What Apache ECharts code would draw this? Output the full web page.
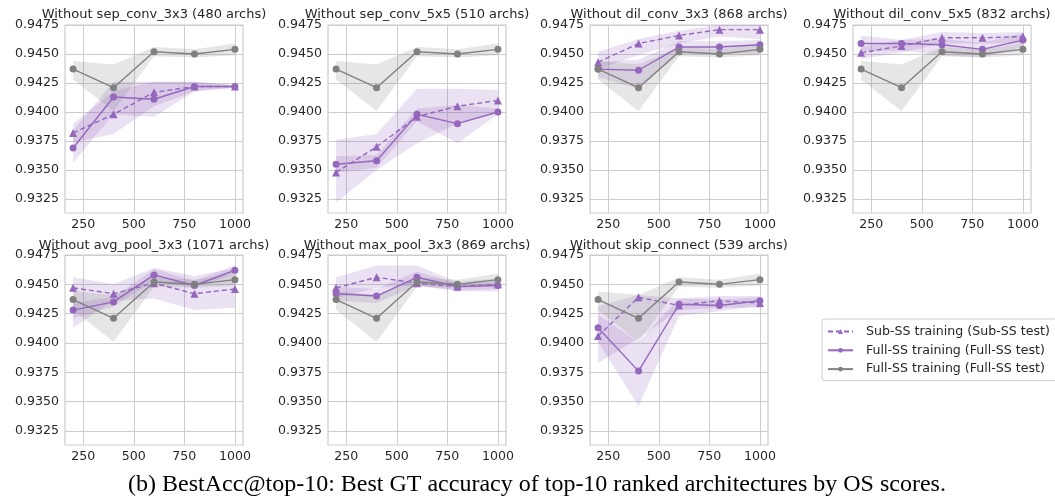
<!DOCTYPE html>
<html>
<head>
<meta charset="utf-8">
<script src="https://cdn.jsdelivr.net/npm/echarts@6/dist/echarts.min.js"></script>
<style>
  html, body { margin: 0; padding: 0; background: #ffffff; }
  #chart { width: 1055px; height: 499px; }
</style>
</head>
<body>
<div id="chart"></div>
<script>
// Number of supernet training archs on the x axis
const archCounts = [200, 400, 600, 800, 1000];

const panelTitles = [
  'Without sep_conv_3x3 (480 archs)',
  'Without sep_conv_5x5 (510 archs)',
  'Without dil_conv_3x3 (868 archs)',
  'Without dil_conv_5x5 (832 archs)',
  'Without avg_pool_3x3 (1071 archs)',
  'Without max_pool_3x3 (869 archs)',
  'Without skip_connect (539 archs)'
];

const xTicks = [250, 500, 750, 1000];
const yTicks = [0.9325, 0.9350, 0.9375, 0.9400, 0.9425, 0.9450, 0.9475];

// Full search space baseline (same in every panel): mean and band
const baseMean = [0.9437, 0.9421, 0.9452, 0.9450, 0.9454];
const baseLo   = [0.9428, 0.9401, 0.9448, 0.9447, 0.9449];
const baseHi   = [0.9444, 0.9441, 0.9456, 0.9454, 0.9459];

// Sub-SS training evaluated on the sub space, one row per panel
const subMean = [
  [0.9382, 0.9398, 0.9417, 0.9422, 0.9422],
  [0.9348, 0.9370, 0.9396, 0.9405, 0.9410],
  [0.9443, 0.9459, 0.9466, 0.9471, 0.9471],
  [0.9451, 0.9457, 0.9464, 0.9464, 0.9465],
  [0.9447, 0.9442, 0.9451, 0.9442, 0.9446],
  [0.9447, 0.9456, 0.9451, 0.9448, 0.9450],
  [0.9406, 0.9439, 0.9432, 0.9436, 0.9434]
];
const subLo = [
  [0.9374, 0.9381, 0.9405, 0.9418, 0.9421],
  [0.9322, 0.9350, 0.9373, 0.9390, 0.9400],
  [0.9437, 0.9449, 0.9459, 0.9465, 0.9463],
  [0.9446, 0.9451, 0.9459, 0.9459, 0.9459],
  [0.9413, 0.9436, 0.9438, 0.9428, 0.9430],
  [0.9438, 0.9447, 0.9449, 0.9445, 0.9446],
  [0.9383, 0.9404, 0.9428, 0.9430, 0.9430]
];
const subHi = [
  [0.9390, 0.9418, 0.9426, 0.9426, 0.9423],
  [0.9376, 0.9381, 0.9420, 0.9420, 0.9419],
  [0.9452, 0.9463, 0.9470, 0.9475, 0.9475],
  [0.9456, 0.9462, 0.9469, 0.9468, 0.9469],
  [0.9456, 0.9450, 0.9464, 0.9457, 0.9464],
  [0.9456, 0.9466, 0.9466, 0.9452, 0.9455],
  [0.9431, 0.9441, 0.9438, 0.9440, 0.9440]
];

// Full-SS training evaluated on the full space, one row per panel
const fullMean = [
  [0.9369, 0.9413, 0.9411, 0.9422, 0.9422],
  [0.9355, 0.9358, 0.9398, 0.9390, 0.9400],
  [0.9437, 0.9436, 0.9456, 0.9456, 0.9458],
  [0.9459, 0.9459, 0.9458, 0.9454, 0.9462],
  [0.9428, 0.9435, 0.9458, 0.9449, 0.9462],
  [0.9442, 0.9440, 0.9456, 0.9448, 0.9449],
  [0.9413, 0.9376, 0.9433, 0.9432, 0.9436]
];
const fullLo = [
  [0.9356, 0.9398, 0.9396, 0.9418, 0.9421],
  [0.9348, 0.9352, 0.9392, 0.9373, 0.9398],
  [0.9430, 0.9420, 0.9450, 0.9450, 0.9450],
  [0.9452, 0.9453, 0.9449, 0.9447, 0.9456],
  [0.9421, 0.9431, 0.9453, 0.9447, 0.9459],
  [0.9436, 0.9434, 0.9449, 0.9444, 0.9444],
  [0.9401, 0.9346, 0.9423, 0.9427, 0.9432]
];
const fullHi = [
  [0.9384, 0.9426, 0.9426, 0.9426, 0.9423],
  [0.9362, 0.9363, 0.9403, 0.9406, 0.9403],
  [0.9443, 0.9445, 0.9461, 0.9461, 0.9462],
  [0.9466, 0.9462, 0.9463, 0.9460, 0.9468],
  [0.9434, 0.9439, 0.9463, 0.9453, 0.9466],
  [0.9448, 0.9446, 0.9461, 0.9451, 0.9452],
  [0.9424, 0.9401, 0.9438, 0.9437, 0.9439]
];

const legendNames = [
  'Sub-SS training (Sub-SS test)',
  'Full-SS training (Full-SS test)',
  'Full-SS training (Full-SS test) '
];

const PURPLE = '#9467bd';
const GRAY = '#808080';
const INK = '#262626';
const FONT = 'DejaVu Sans';
const FS = 12.6;

// Panel placement in pixels
const colLeft = [65, 328, 590, 853];
const rowTop = [25, 255];
const rowHeight = [188, 190];
const panelWidth = 178;

const grids = [], xAxes = [], yAxes = [], titles = [], series = [];

function bandSeries(idx, lo, hi, color) {
  return {
    type: 'custom',
    xAxisIndex: idx,
    yAxisIndex: idx,
    silent: true,
    z: 1,
    data: archCounts.map((x, i) => [x, lo[i], hi[i]]),
    encode: { x: 0, y: [1, 2] },
    renderItem: function (params, api) {
      if (params.dataIndex !== 0) return null;
      const pts = [];
      for (let i = 0; i < archCounts.length; i++) pts.push(api.coord([archCounts[i], hi[i]]));
      for (let i = archCounts.length - 1; i >= 0; i--) pts.push(api.coord([archCounts[i], lo[i]]));
      return { type: 'polygon', shape: { points: pts }, style: { fill: color } };
    }
  };
}

function lineSeries(idx, name, values, color, symbol, size, dashed, z) {
  return {
    type: 'line',
    name: name,
    xAxisIndex: idx,
    yAxisIndex: idx,
    z: z,
    data: archCounts.map((x, i) => [x, values[i]]),
    symbol: symbol,
    symbolSize: size,
    showSymbol: true,
    itemStyle: { color: color, borderWidth: 0 },
    lineStyle: { color: color, width: 1.4, type: dashed ? [5, 3] : 'solid' },
    emphasis: { disabled: true },
    animation: false
  };
}

for (let p = 0; p < panelTitles.length; p++) {
  const row = p < 4 ? 0 : 1;
  const col = p % 4;
  const left = colLeft[col];
  grids.push({
    left: left, top: rowTop[row], width: panelWidth, height: rowHeight[row],
    show: true, borderColor: '#cccccc', borderWidth: 1.2, backgroundColor: '#ffffff',
    containLabel: false
  });
  xAxes.push({
    type: 'value', gridIndex: p, min: 160, max: 1040,
    axisLine: { show: false }, axisTick: { show: false, customValues: xTicks },
    axisLabel: {
      customValues: xTicks, color: INK, fontFamily: FONT, fontSize: FS, margin: 5,
      formatter: v => String(v)
    },
    splitLine: { show: true, lineStyle: { color: '#cccccc', width: 1 } }
  });
  yAxes.push({
    type: 'value', gridIndex: p, min: 0.9313, max: 0.9475,
    axisLine: { show: false }, axisTick: { show: false, customValues: yTicks },
    axisLabel: {
      customValues: yTicks, color: INK, fontFamily: FONT, fontSize: FS, margin: 6,
      formatter: v => v.toFixed(4)
    },
    splitLine: { show: true, lineStyle: { color: '#cccccc', width: 1 } }
  });
  titles.push({
    text: panelTitles[p],
    left: left + panelWidth / 2,
    top: row === 0 ? 8 : 239,
    textAlign: 'center',
    padding: 0,
    textStyle: { color: INK, fontFamily: FONT, fontSize: 13, fontWeight: 'normal' }
  });

  series.push(bandSeries(p, subLo[p], subHi[p], 'rgba(148,103,189,0.2)'));
  series.push(bandSeries(p, fullLo[p], fullHi[p], 'rgba(148,103,189,0.2)'));
  series.push(bandSeries(p, baseLo, baseHi, 'rgba(128,128,128,0.2)'));
  series.push(lineSeries(p, legendNames[0], subMean[p], PURPLE, 'triangle', 8, true, 3));
  series.push(lineSeries(p, legendNames[1], fullMean[p], PURPLE, 'circle', 7, false, 4));
  series.push(lineSeries(p, legendNames[2], baseMean, GRAY, 'circle', 7, false, 5));
}

titles.push({
  text: '(b) BestAcc@top-10: Best GT accuracy of top-10 ranked architectures by OS scores.',
  left: 537, top: 473, textAlign: 'center', padding: 0,
  textStyle: { color: '#000000', fontFamily: 'Liberation Serif', fontSize: 24, fontWeight: 'normal' }
});

const chart = echarts.init(document.getElementById('chart'), null, { renderer: 'canvas' });
chart.setOption({
  animation: false,
  backgroundColor: '#ffffff',
  title: titles,
  grid: grids,
  xAxis: xAxes,
  yAxis: yAxes,
  legend: {
    data: legendNames,
    orient: 'vertical',
    left: 822, top: 319,
    padding: [6, 8, 5, 5],
    itemGap: 5.8,
    itemWidth: 25, itemHeight: 6,
    borderColor: '#cccccc', borderWidth: 1, borderRadius: 3,
    backgroundColor: '#ffffff',
    selectedMode: false,
    textStyle: { color: INK, fontFamily: FONT, fontSize: FS, padding: [0, 0, 0, 8] }
  },
  series: series
});
</script>
</body>
</html>
